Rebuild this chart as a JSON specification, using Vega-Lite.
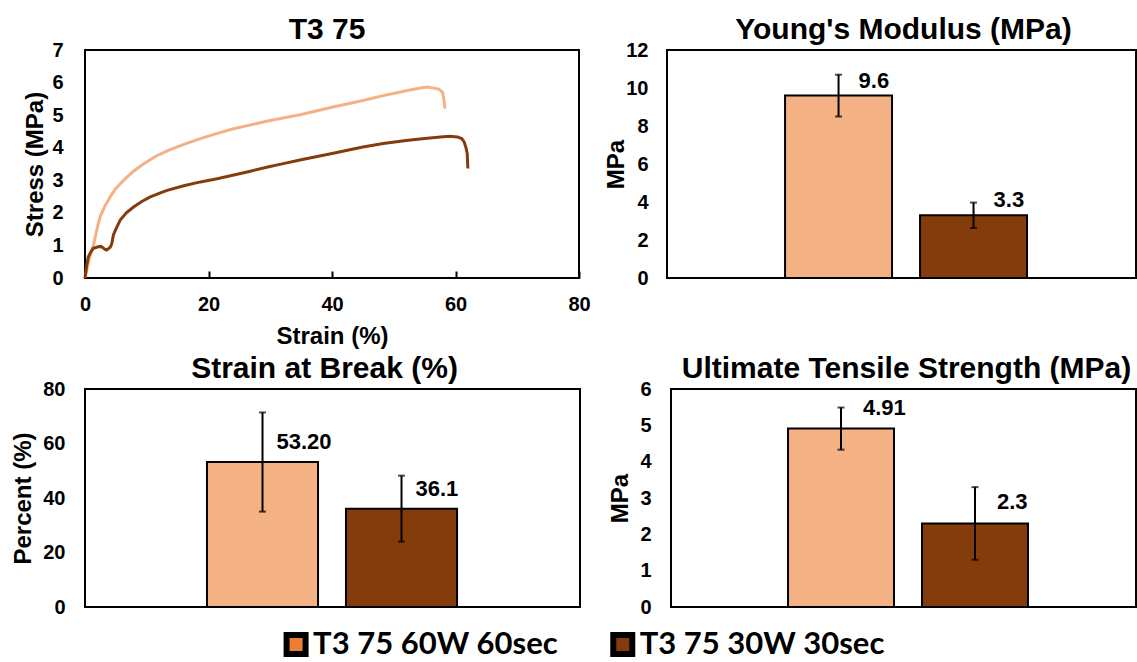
{
  "$schema": "https://vega.github.io/schema/vega-lite/v6.json",
  "padding": {"left": 10, "top": 14, "right": 0, "bottom": 0},
  "background": "white",
  "datasets": {
    "curves": [
      {"series": "T3 75 60W 60sec", "strain": 0, "stress": 0},
      {"series": "T3 75 60W 60sec", "strain": 0.3, "stress": 0.25},
      {"series": "T3 75 60W 60sec", "strain": 0.7, "stress": 0.6},
      {"series": "T3 75 60W 60sec", "strain": 1.36, "stress": 1.01},
      {"series": "T3 75 60W 60sec", "strain": 2.0, "stress": 1.55},
      {"series": "T3 75 60W 60sec", "strain": 2.44, "stress": 1.88},
      {"series": "T3 75 60W 60sec", "strain": 3.2, "stress": 2.2},
      {"series": "T3 75 60W 60sec", "strain": 4.07, "stress": 2.49},
      {"series": "T3 75 60W 60sec", "strain": 5.0, "stress": 2.75},
      {"series": "T3 75 60W 60sec", "strain": 6.24, "stress": 3.0},
      {"series": "T3 75 60W 60sec", "strain": 7.8, "stress": 3.27},
      {"series": "T3 75 60W 60sec", "strain": 9.5, "stress": 3.51},
      {"series": "T3 75 60W 60sec", "strain": 11.4, "stress": 3.73},
      {"series": "T3 75 60W 60sec", "strain": 13.3, "stress": 3.9},
      {"series": "T3 75 60W 60sec", "strain": 16.0, "stress": 4.1},
      {"series": "T3 75 60W 60sec", "strain": 18.7, "stress": 4.28},
      {"series": "T3 75 60W 60sec", "strain": 21.4, "stress": 4.44},
      {"series": "T3 75 60W 60sec", "strain": 24.1, "stress": 4.58},
      {"series": "T3 75 60W 60sec", "strain": 26.8, "stress": 4.7},
      {"series": "T3 75 60W 60sec", "strain": 29.6, "stress": 4.82},
      {"series": "T3 75 60W 60sec", "strain": 32.3, "stress": 4.92},
      {"series": "T3 75 60W 60sec", "strain": 35.0, "stress": 5.02},
      {"series": "T3 75 60W 60sec", "strain": 40.0, "stress": 5.24},
      {"series": "T3 75 60W 60sec", "strain": 45.0, "stress": 5.45},
      {"series": "T3 75 60W 60sec", "strain": 48.3, "stress": 5.6},
      {"series": "T3 75 60W 60sec", "strain": 52.0, "stress": 5.75},
      {"series": "T3 75 60W 60sec", "strain": 54.5, "stress": 5.84},
      {"series": "T3 75 60W 60sec", "strain": 55.5, "stress": 5.86},
      {"series": "T3 75 60W 60sec", "strain": 56.5, "stress": 5.83},
      {"series": "T3 75 60W 60sec", "strain": 57.3, "stress": 5.8},
      {"series": "T3 75 60W 60sec", "strain": 57.9, "stress": 5.7},
      {"series": "T3 75 60W 60sec", "strain": 58.1, "stress": 5.5},
      {"series": "T3 75 60W 60sec", "strain": 58.2, "stress": 5.35},
      {"series": "T3 75 60W 60sec", "strain": 58.3, "stress": 5.2},
      {"series": "T3 75 30W 30sec", "strain": 0, "stress": 0},
      {"series": "T3 75 30W 30sec", "strain": 0.25, "stress": 0.35},
      {"series": "T3 75 30W 30sec", "strain": 0.54, "stress": 0.65},
      {"series": "T3 75 30W 30sec", "strain": 1.0, "stress": 0.82},
      {"series": "T3 75 30W 30sec", "strain": 1.36, "stress": 0.91},
      {"series": "T3 75 30W 30sec", "strain": 2.0, "stress": 0.95},
      {"series": "T3 75 30W 30sec", "strain": 2.6, "stress": 0.97},
      {"series": "T3 75 30W 30sec", "strain": 3.25, "stress": 0.88},
      {"series": "T3 75 30W 30sec", "strain": 3.5, "stress": 0.86},
      {"series": "T3 75 30W 30sec", "strain": 3.8, "stress": 0.9},
      {"series": "T3 75 30W 30sec", "strain": 4.1, "stress": 0.95},
      {"series": "T3 75 30W 30sec", "strain": 4.34, "stress": 1.06},
      {"series": "T3 75 30W 30sec", "strain": 4.6, "stress": 1.32},
      {"series": "T3 75 30W 30sec", "strain": 5.0, "stress": 1.5},
      {"series": "T3 75 30W 30sec", "strain": 5.7, "stress": 1.78},
      {"series": "T3 75 30W 30sec", "strain": 6.7, "stress": 2.0},
      {"series": "T3 75 30W 30sec", "strain": 7.86, "stress": 2.18},
      {"series": "T3 75 30W 30sec", "strain": 9.2, "stress": 2.35},
      {"series": "T3 75 30W 30sec", "strain": 10.57, "stress": 2.49},
      {"series": "T3 75 30W 30sec", "strain": 12.0, "stress": 2.6},
      {"series": "T3 75 30W 30sec", "strain": 13.3, "stress": 2.69},
      {"series": "T3 75 30W 30sec", "strain": 16.0, "stress": 2.83},
      {"series": "T3 75 30W 30sec", "strain": 18.7, "stress": 2.95},
      {"series": "T3 75 30W 30sec", "strain": 21.4, "stress": 3.05},
      {"series": "T3 75 30W 30sec", "strain": 24.1, "stress": 3.16},
      {"series": "T3 75 30W 30sec", "strain": 26.8, "stress": 3.28},
      {"series": "T3 75 30W 30sec", "strain": 29.6, "stress": 3.41},
      {"series": "T3 75 30W 30sec", "strain": 32.3, "stress": 3.52},
      {"series": "T3 75 30W 30sec", "strain": 35.0, "stress": 3.63},
      {"series": "T3 75 30W 30sec", "strain": 40.0, "stress": 3.82},
      {"series": "T3 75 30W 30sec", "strain": 45.0, "stress": 4.02},
      {"series": "T3 75 30W 30sec", "strain": 48.3, "stress": 4.13},
      {"series": "T3 75 30W 30sec", "strain": 52.0, "stress": 4.22},
      {"series": "T3 75 30W 30sec", "strain": 55.0, "stress": 4.28},
      {"series": "T3 75 30W 30sec", "strain": 57.6, "stress": 4.33},
      {"series": "T3 75 30W 30sec", "strain": 59.0, "stress": 4.35},
      {"series": "T3 75 30W 30sec", "strain": 60.3, "stress": 4.33},
      {"series": "T3 75 30W 30sec", "strain": 61.0, "stress": 4.28},
      {"series": "T3 75 30W 30sec", "strain": 61.4, "stress": 4.18},
      {"series": "T3 75 30W 30sec", "strain": 61.7, "stress": 4.0},
      {"series": "T3 75 30W 30sec", "strain": 61.9, "stress": 3.82},
      {"series": "T3 75 30W 30sec", "strain": 61.95, "stress": 3.6},
      {"series": "T3 75 30W 30sec", "strain": 62.0, "stress": 3.36}
    ],
    "bars": [
      {"panel": "ym", "series": "T3 75 60W 60sec", "value": 9.6, "err": 1.1, "label": "9.6"},
      {"panel": "ym", "series": "T3 75 30W 30sec", "value": 3.3, "err": 0.67, "label": "3.3"},
      {"panel": "sb", "series": "T3 75 60W 60sec", "value": 53.2, "err": 18.2, "label": "53.20"},
      {"panel": "sb", "series": "T3 75 30W 30sec", "value": 36.1, "err": 12.1, "label": "36.1"},
      {"panel": "uts", "series": "T3 75 60W 60sec", "value": 4.91, "err": 0.58, "label": "4.91"},
      {"panel": "uts", "series": "T3 75 30W 30sec", "value": 2.3, "err": 1.0, "label": "2.3"}
    ],
    "legend": [
      {"series": "T3 75 60W 60sec"},
      {"series": "T3 75 30W 30sec"}
    ]
  },
  "config": {
    "font": "Liberation Sans",
    "view": {"stroke": "black", "strokeWidth": 2},
    "axis": {
      "labelFont": "Liberation Sans", "labelFontSize": 20, "labelFontWeight": "bold", "labelColor": "black",
      "titleFont": "Liberation Sans", "titleFontSize": 24, "titleFontWeight": "bold", "titleColor": "black",
      "grid": false, "domain": false, "ticks": false, "labelOverlap": false
    },
    "title": {"font": "Liberation Sans", "fontSize": 30, "fontWeight": "bold", "color": "black", "baseline": "alphabetic", "offset": -5, "frame": "group", "anchor": "middle"},
    "text": {"font": "Liberation Sans", "fontSize": 22, "fontWeight": "bold", "color": "black"}
  },
  "vconcat": [
    {
      "spacing": 11,
      "hconcat": [
        {
          "width": 494, "height": 228,
          "title": {"text": "T3 75", "dx": -5},
          "data": {"name": "curves"},
          "mark": {"type": "line", "strokeWidth": 3},
          "encoding": {
            "x": {"field": "strain", "type": "quantitative", "scale": {"domain": [0, 80], "nice": false},
                  "axis": {"title": "Strain (%)", "values": [0, 20, 40, 60, 80], "ticks": true, "tickSize": -7, "tickWidth": 2, "tickColor": "black", "labelPadding": 23, "titlePadding": 10, "labelFlush": false}},
            "y": {"field": "stress", "type": "quantitative", "scale": {"domain": [0, 7], "nice": false},
                  "axis": {"title": "Stress (MPa)", "values": [0, 1, 2, 3, 4, 5, 6, 7], "labelPadding": 22, "titlePadding": 4}},
            "stroke": {"field": "series", "type": "nominal", "legend": null,
                       "scale": {"domain": ["T3 75 60W 60sec", "T3 75 30W 30sec"], "range": ["#F4B183", "#843C0C"]}},
            "order": {"field": "strain", "type": "quantitative"}
          }
        },
        {
          "width": 469, "height": 228,
          "title": {"text": "Young's Modulus (MPa)", "dx": 2},
          "data": {"name": "bars"},
          "transform": [{"filter": "datum.panel === 'ym'"}],
          "encoding": {
            "x": {"field": "series", "type": "nominal", "axis": null,
                  "scale": {"domain": ["T3 75 60W 60sec", "T3 75 30W 30sec"], "paddingInner": 0.2074, "paddingOuter": 0.841, "align": 0.52}},
            "y": {"field": "value", "type": "quantitative", "scale": {"domain": [0, 12], "nice": false},
                  "axis": {"title": "MPa", "values": [0, 2, 4, 6, 8, 10, 12], "labelPadding": 19, "titlePadding": -3}}
          },
          "layer": [
            {
              "mark": {"type": "bar", "stroke": "black", "strokeWidth": 2},
              "encoding": {
                "color": {"field": "series", "type": "nominal", "legend": null,
                          "scale": {"domain": ["T3 75 60W 60sec", "T3 75 30W 30sec"], "range": ["#F4B183", "#843C0C"]}}
              }
            },
            {
              "mark": {"type": "errorbar", "ticks": {"size": 7, "thickness": 2}, "rule": {"strokeWidth": 2}, "color": "black", "thickness": 2},
              "encoding": {"yError": {"field": "err"}}
            },
            {
              "mark": {"type": "text", "align": "left", "baseline": "middle", "dx": 20, "dy": -15},
              "encoding": {"text": {"field": "label"}}
            }
          ]
        }
      ]
    },
    {
      "spacing": 26,
      "hconcat": [
        {
          "width": 495, "height": 218,
          "title": {"text": "Strain at Break (%)", "dx": -8},
          "data": {"name": "bars"},
          "transform": [{"filter": "datum.panel === 'sb'"}],
          "encoding": {
            "x": {"field": "series", "type": "nominal", "axis": null,
                  "scale": {"domain": ["T3 75 60W 60sec", "T3 75 30W 30sec"], "paddingInner": 0.201, "paddingOuter": 0.881, "align": 0.498}},
            "y": {"field": "value", "type": "quantitative", "scale": {"domain": [0, 80], "nice": false},
                  "axis": {"title": "Percent (%)", "values": [0, 20, 40, 60, 80], "labelPadding": 20, "titlePadding": 7}}
          },
          "layer": [
            {
              "mark": {"type": "bar", "stroke": "black", "strokeWidth": 2},
              "encoding": {"color": {"field": "series", "type": "nominal", "legend": null}}
            },
            {
              "mark": {"type": "errorbar", "ticks": {"size": 7, "thickness": 2}, "rule": {"strokeWidth": 2}, "color": "black", "thickness": 2},
              "encoding": {"yError": {"field": "err"}}
            },
            {
              "mark": {"type": "text", "align": "left", "baseline": "middle", "dx": 14, "dy": -20},
              "encoding": {"text": {"field": "label"}}
            }
          ]
        },
        {
          "width": 465, "height": 218,
          "title": {"text": "Ultimate Tensile Strength (MPa)", "dx": 3},
          "data": {"name": "bars"},
          "transform": [{"filter": "datum.panel === 'uts'"}],
          "encoding": {
            "x": {"field": "series", "type": "nominal", "axis": null,
                  "scale": {"domain": ["T3 75 60W 60sec", "T3 75 30W 30sec"], "paddingInner": 0.209, "paddingOuter": 0.84, "align": 0.52}},
            "y": {"field": "value", "type": "quantitative", "scale": {"domain": [0, 6], "nice": false},
                  "axis": {"title": "MPa", "values": [0, 1, 2, 3, 4, 5, 6], "labelPadding": 20, "titlePadding": 7}}
          },
          "layer": [
            {
              "mark": {"type": "bar", "stroke": "black", "strokeWidth": 2},
              "encoding": {"color": {"field": "series", "type": "nominal", "legend": null}}
            },
            {
              "mark": {"type": "errorbar", "ticks": {"size": 7, "thickness": 2}, "rule": {"strokeWidth": 2}, "color": "black", "thickness": 2},
              "encoding": {"yError": {"field": "err"}}
            },
            {
              "mark": {"type": "text", "align": "left", "baseline": "middle", "dx": 22, "dy": -21},
              "encoding": {"text": {"field": "label"}}
            }
          ]
        }
      ]
    },
    {
      "width": 980, "height": 41,
      "view": {"stroke": null},
      "data": {"name": "legend"},
      "encoding": {
        "x": {"field": "series", "type": "nominal", "axis": null,
              "scale": {"type": "point", "domain": ["T3 75 60W 60sec", "T3 75 30W 30sec"], "padding": 1, "align": 0.3231}}
      },
      "layer": [
        {
          "mark": {"type": "point", "shape": "square", "filled": true, "size": 361, "stroke": "black", "strokeWidth": 6, "opacity": 1, "yOffset": 2},
          "encoding": {
            "fill": {"field": "series", "type": "nominal", "legend": null,
                     "scale": {"domain": ["T3 75 60W 60sec", "T3 75 30W 30sec"], "range": ["#ED7D31", "#843C0C"]}}
          }
        },
        {
          "mark": {"type": "text", "align": "left", "baseline": "middle", "dx": 17, "yOffset": 2, "font": "Lato", "fontSize": 31, "fontWeight": "bold", "color": "black"},
          "encoding": {"text": {"field": "series"}}
        }
      ]
    }
  ],
  "spacing": 4
}
